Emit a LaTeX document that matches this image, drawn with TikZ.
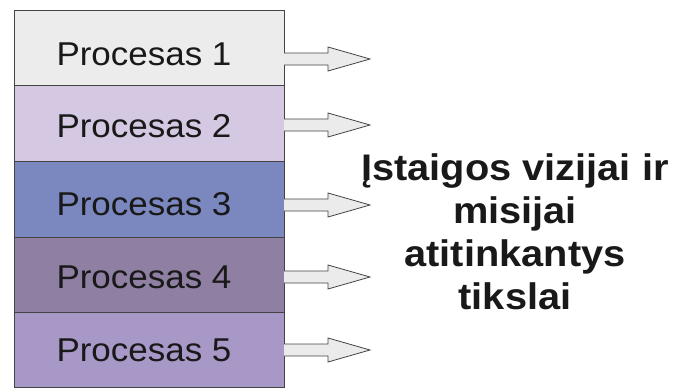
\documentclass[tikz,border=0pt]{standalone}
\usepackage{fontspec}
\setmainfont{Liberation Sans}
\definecolor{rowa}{HTML}{ECECEC}
\definecolor{rowb}{HTML}{D5C8E2}
\definecolor{rowc}{HTML}{7B88BF}
\definecolor{rowd}{HTML}{8E7FA3}
\definecolor{rowe}{HTML}{A898C8}
\definecolor{edge}{HTML}{444444}
\definecolor{arrfill}{HTML}{EBEBEB}
\begin{document}
\begin{tikzpicture}[x=1pt,y=-1pt,
  rowbox/.style={draw=edge,line width=1pt,minimum width=270pt,inner sep=0pt,anchor=north west},
  proclabel/.style={font=\fontsize{33}{38}\selectfont,text=black!90,xscale=1.06},
  fatarrow/.style={draw=edge,fill=arrfill,line width=0.8pt}]
\useasboundingbox (0,0) rectangle (683,388);
\node[rowbox,fill=rowa,minimum height=75pt] (p1) at (14,10) {};
\node[rowbox,fill=rowb,minimum height=76pt] (p2) at (14,85) {};
\node[rowbox,fill=rowc,minimum height=76pt] (p3) at (14,161) {};
\node[rowbox,fill=rowd,minimum height=75pt] (p4) at (14,237) {};
\node[rowbox,fill=rowe,minimum height=75pt] (p5) at (14,312) {};
\node[proclabel] (t1) at (144,54) {Procesas 1};
\node[proclabel] (t2) at (144,126) {Procesas 2};
\node[proclabel] (t3) at (144,204) {Procesas 3};
\node[proclabel] (t4) at (144,277) {Procesas 4};
\node[proclabel] (t5) at (144,350) {Procesas 5};
\foreach \yy/\n in {59/1,125/2,205/3,277/4,350/5}{
  \coordinate (s\n) at (284,\yy);
  \draw[fatarrow] (s\n) ++(0,-6) -- ++(44,0) -- ++(0,-6) -- (370,\yy) -- (328,\yy+12) -- ++(0,-6) -- (284,\yy+6);
}
\node[font=\bfseries\fontsize{37}{43}\selectfont,align=center,text=black!90,xscale=1.075] (goal) at (515,232) {Įstaigos vizijai ir\\misijai\\atitinkantys\\tikslai};
\end{tikzpicture}
\end{document}
